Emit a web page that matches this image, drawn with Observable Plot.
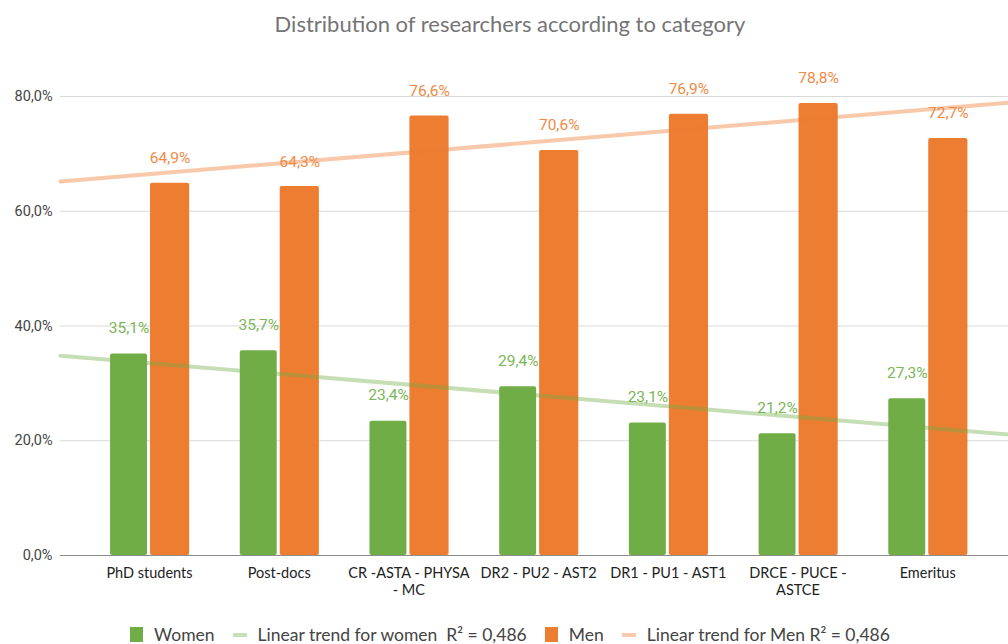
<!DOCTYPE html>
<html><head><meta charset="utf-8">
<script src="https://cdn.jsdelivr.net/npm/d3@7"></script>
<script src="https://cdn.jsdelivr.net/npm/@observablehq/plot@0.6"></script>
<style>
body{margin:0;background:#fff;width:1008px;height:644px;overflow:hidden;font-family:Lato,sans-serif}
#title{height:48px;line-height:48px;text-align:center;font-size:22px;color:#757575;padding-left:12px}
#legend{display:flex;justify-content:center;align-items:center;font-size:17.5px;color:#444;margin-top:19px;padding-left:12px}
.item{display:flex;align-items:center;margin:0 9px}
.sw{display:inline-block;margin-right:11px}
</style></head><body>
<div id="title"></div>
<div id="chart"></div>
<div id="legend"></div>
<script>
const title = "Distribution of researchers according to category";
const categories = ["PhD students","Post-docs","CR -ASTA - PHYSA\n- MC","DR2 - PU2 - AST2","DR1 - PU1 - AST1","DRCE - PUCE -\nASTCE","Emeritus"];
const women = [35.1,35.7,23.4,29.4,23.1,21.2,27.3];
const men = [64.9,64.3,76.6,70.6,76.9,78.8,72.7];
const yTicks = [0,20,40,60,80];
const legendItems = [
  {label:"Women", kind:"bar", color:"#70ad47"},
  {label:"Linear trend for women\u00a0 R\u00b2 = 0,486", kind:"line", color:"#c5e0b4"},
  {label:"Men", kind:"bar", color:"#ed7d31"},
  {label:"Linear trend for Men R\u00b2 = 0,486", kind:"line", color:"#f8cbad"}
];

document.getElementById("title").textContent = title;

const fmt = v => v.toFixed(1).replace(".", ",") + "%";
const idx = categories.map((_, i) => i + 1);
const rows = categories.map((c, i) => ({i: i + 1, women: women[i], men: men[i]}));

const xDomain = [0.314, 7.623];
function trend(vals) {
  const mx = d3.mean(idx), my = d3.mean(vals);
  const sxy = d3.sum(idx, (x, k) => (x - mx) * (vals[k] - my));
  const sxx = d3.sum(idx, x => (x - mx) ** 2);
  const b = sxy / sxx, a = my - b * mx;
  return xDomain.map(x => ({x, y: a + b * x}));
}
const tw = trend(women), tm = trend(men);

const hasAxisMarks = typeof Plot.axisX === "function";
const axisMarks = hasAxisMarks ? [
  Plot.axisX({ticks: idx, tickFormat: i => categories[i - 1], tickSize: 0, tickPadding: 10, label: null, fontSize: 14.5, lineHeight: 1.2, fill: "#222"}),
  Plot.axisY({ticks: yTicks, tickFormat: fmt, tickSize: 0, tickPadding: 8, label: null, fontSize: 14.5, fill: "#444", fontFamily: "Roboto, sans-serif"})
] : [];

const plot = Plot.plot({
  width: 1008, height: 557,
  marginLeft: 60, marginRight: 0, marginTop: 48, marginBottom: 50,
  style: {fontFamily: "Lato, sans-serif", fontSize: "14.5px", color: "#333", background: "transparent"},
  x: hasAxisMarks ? {domain: xDomain, axis: null} : {domain: xDomain, ticks: idx, tickFormat: i => categories[i - 1], tickSize: 0, tickPadding: 10, label: null},
  y: hasAxisMarks ? {domain: [0, 80], axis: null} : {domain: [0, 80], ticks: yTicks, tickFormat: fmt, tickSize: 0, tickPadding: 8, label: null},
  marks: [
    Plot.ruleY(yTicks.filter(t => t > 0), {stroke: "#d9d9d9", strokeWidth: 1}),
    Plot.rectY(rows, {x1: d => d.i - 0.300, x2: d => d.i - 0.015, y1: 0, y2: "women", fill: "#70ad47", rx: 2}),
    Plot.rectY(rows, {x1: d => d.i + 0.008, x2: d => d.i + 0.310, y1: 0, y2: "men", fill: "#ed7d31", rx: 2}),
    Plot.ruleY([0], {stroke: "#8c8c8c", strokeWidth: 1.2}),
    Plot.line(tw, {x: "x", y: "y", stroke: "#70ad47", strokeOpacity: 0.4, strokeWidth: 4}),
    Plot.line(tm, {x: "x", y: "y", stroke: "#ed7d31", strokeOpacity: 0.42, strokeWidth: 4}),
    Plot.text(rows, {x: d => d.i - 0.157, y: "women", text: d => fmt(d.women), dy: -26, fill: "#7ab657", fontSize: 15.5, fontFamily: "Roboto, sans-serif"}),
    Plot.text(rows, {x: d => d.i + 0.159, y: "men", text: d => fmt(d.men), dy: -25, fill: "#f08a45", fontSize: 15.5, fontFamily: "Roboto, sans-serif"}),
    ...axisMarks
  ]
});
document.getElementById("chart").appendChild(plot);

const leg = document.getElementById("legend");
legendItems.forEach(it => {
  const el = document.createElement("div");
  el.className = "item";
  const sw = document.createElement("span");
  sw.className = "sw";
  if (it.kind === "bar") { sw.style.cssText = `width:13px;height:15px;background:${it.color}`; }
  else { sw.style.cssText = `width:14px;height:4px;background:${it.color}`; }
  el.appendChild(sw);
  const tx = document.createElement("span");
  tx.textContent = it.label;
  el.appendChild(tx);
  leg.appendChild(el);
});
</script>
</body></html>
